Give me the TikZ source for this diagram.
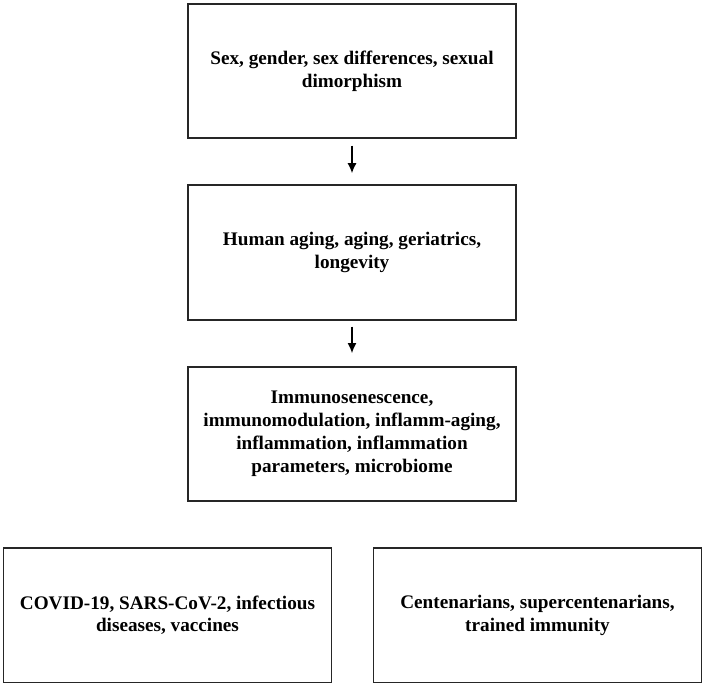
\documentclass[tikz,border=0pt]{standalone}
\usepackage{fontspec}
\setmainfont{Liberation Serif}
\usepackage{xcolor}
\definecolor{box_black}{RGB}{38,38,38}
\usepackage{tikz}
\usetikzlibrary{positioning, arrows.meta}
\tikzstyle{block} = [
    rectangle, text centered, align=center,
    minimum width=328pt, minimum height=134.5pt,
    line width=1.9pt, inner sep=2mm,
    draw=box_black, fill=white, text=black,
    font=\fontsize{19.2}{22.8}\selectfont\bfseries
]
\tikzstyle{arrow} = [line width=1.4pt, -{Latex[length=10pt, width=9pt]}, black]

\begin{document}
\begin{tikzpicture}

    \useasboundingbox (0,0) rectangle (706pt,-687pt);

    % chain of topic nodes
    \node[block] (sex_gender) at (352pt,-71pt) {Sex, gender, sex differences, sexual\\ dimorphism};
    \node[block] (human_aging) [below=45pt of sex_gender] {Human aging, aging, geriatrics,\\ longevity};
    \node[block] (immuno) [below=45pt of human_aging] {Immunosenescence,\\ immunomodulation, inflamm-aging,\\ inflammation, inflammation\\ parameters, microbiome};

    % bottom row nodes
    \node[block] (covid) [below=45pt of immuno, xshift=-184.5pt] {COVID-19, SARS-CoV-2, infectious\\ diseases, vaccines};
    \node[block] (centenarians) [below=45pt of immuno, xshift=185.5pt] {Centenarians, supercentenarians,\\ trained immunity};

    % arrows between topic nodes
    \draw[arrow, shorten <=6.5pt, shorten >=11pt] (sex_gender) to (human_aging);
    \draw[arrow, shorten <=6pt, shorten >=12.5pt] (human_aging) to (immuno);
\end{tikzpicture}
\end{document}
